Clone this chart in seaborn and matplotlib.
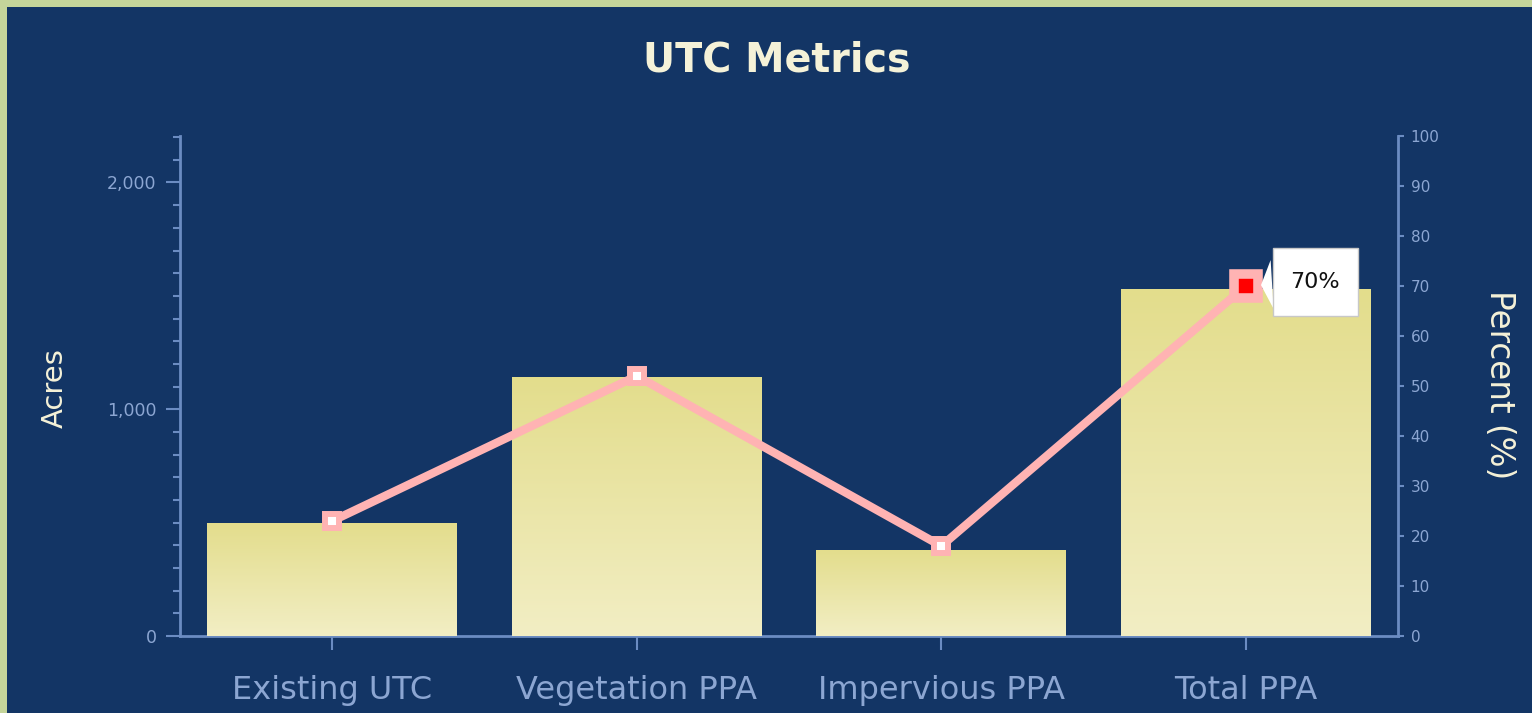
import numpy as np
import pandas as pd
import matplotlib
matplotlib.use("Agg")
import matplotlib.pyplot as plt
import seaborn as sns
from matplotlib.colors import LinearSegmentedColormap
from matplotlib.ticker import MultipleLocator, FuncFormatter
from matplotlib.path import Path

categories = ["Existing UTC", "Vegetation PPA", "Impervious PPA", "Total PPA"]
acres = [500, 1140, 380, 1530]
percent = [23, 52, 18, 70]
highlight_label = "70%"

NAVY = "#133565"
BORDER = "#c5d59a"
AXIS = "#6b8cc2"
TICKTXT = "#8ca6d2"
CREAM = "#f5f2d8"
PINK = "#ffb3b3"

sns.set_theme(style="white")
plt.rcParams["font.family"] = ["DejaVu Sans"]


def callout_box(x0, y0, width, height, mutation_size):
    px = 0.8 * mutation_size
    py = 1.07 * mutation_size
    verts = [(x0 - px, y0 - py), (x0 + width + px, y0 - py),
             (x0 + width + px, y0 + height + py), (x0 - px, y0 + height + py),
             (x0 - px, y0 - py)]
    codes = [Path.MOVETO, Path.LINETO, Path.LINETO, Path.LINETO, Path.CLOSEPOLY]
    return Path(verts, codes)


fig = plt.figure(figsize=(15.32, 7.13), dpi=100)
fig.patch.set_facecolor(BORDER)
fig.patches.append(plt.Rectangle((7 / 1532, 0), 1, 1 - 7 / 713, transform=fig.transFigure,
                                 facecolor=NAVY, edgecolor="none", zorder=-10))

ax = fig.add_axes([180 / 1532, 1 - 636 / 713, 1218 / 1532, 500 / 713])
ax.set_facecolor(NAVY)
df = pd.DataFrame({"category": categories, "acres": acres, "percent": percent})
sns.barplot(data=df, x="category", y="acres", ax=ax, color="#e6e09a", width=0.82,
            saturation=1, edgecolor="none", zorder=2)

# vertical gradient on bars
cmap = LinearSegmentedColormap.from_list("bar", ["#f2eec4", "#e3dd8c"])
grad = np.linspace(0, 1, 256).reshape(-1, 1)
for p in list(ax.patches):
    x0, y0 = p.get_x(), p.get_y()
    w, h = p.get_width(), p.get_height()
    im = ax.imshow(grad, extent=[x0, x0 + w, y0, y0 + h], origin="lower", cmap=cmap,
                   aspect="auto", zorder=3, interpolation="bilinear")
    im.set_clip_path(p)

ax.set_xlim(-0.5, 3.5)
ax.set_ylim(0, 2205)
ax.set_xlabel("")
ax.set_ylabel("")
ax.yaxis.set_major_locator(MultipleLocator(1000))
ax.yaxis.set_minor_locator(MultipleLocator(100))
ax.yaxis.set_major_formatter(FuncFormatter(lambda v, p: f"{int(v):,}"))
for s in ["top", "right"]:
    ax.spines[s].set_visible(False)
for s in ["left", "bottom"]:
    ax.spines[s].set_color(AXIS)
    ax.spines[s].set_linewidth(2)
ax.tick_params(axis="y", which="major", length=10, width=1.5, color=AXIS, direction="out",
               labelsize=12.5, labelcolor=TICKTXT, pad=7, left=True)
ax.tick_params(axis="y", which="minor", length=5, width=1.5, color=AXIS, direction="out", left=True)
ax.tick_params(axis="x", length=10, width=1.5, color=AXIS, direction="out",
               labelsize=23, labelcolor=TICKTXT, pad=18, bottom=True)

ax2 = ax.twinx()
sns.lineplot(data=df, x="category", y="percent", ax=ax2, sort=False, color=PINK,
             linewidth=6, marker="s", markersize=10, markeredgewidth=4.3,
             markerfacecolor="white", markeredgecolor=PINK, zorder=5)
hl = df.iloc[[-1]]
sns.scatterplot(data=hl, x="category", y="percent", ax=ax2, marker="s", s=286,
                color="#ff0000", edgecolor=PINK, linewidth=6.9, zorder=6)
ax2.collections[-1].set_joinstyle("miter")
ax2.set_ylim(0, 100)
ax2.set_xlim(-0.5, 3.5)
ax2.set_ylabel("")
ax2.set_xlabel("")
ax2.yaxis.set_major_locator(MultipleLocator(10))
for s in ["top", "left", "bottom"]:
    ax2.spines[s].set_visible(False)
ax2.spines["right"].set_color(AXIS)
ax2.spines["right"].set_linewidth(2)
ax2.tick_params(axis="y", length=4, width=1.5, color=AXIS, direction="out",
                labelsize=11, labelcolor=TICKTXT, pad=5, right=True)

ax2.annotate(highlight_label, xy=(3, percent[-1]), xytext=(50, 3), textcoords="offset points",
             ha="center", va="center", fontsize=16, color="#111111", zorder=10,
             bbox=dict(boxstyle=callout_box, fc="white", ec="#c8c8c8", lw=1),
             arrowprops=dict(arrowstyle="wedge,tail_width=2.2,shrink_factor=0.5", fc="white",
                             ec="none", shrinkA=0, shrinkB=11))

fig.text(0.507, 1 - 60 / 713, "UTC Metrics", ha="center", va="center", fontsize=28.5,
         fontweight="bold", color=CREAM)
fig.text(55 / 1532, 1 - 388 / 713, "Acres", ha="center", va="center", rotation=90,
         fontsize=21, color=CREAM)
fig.text(1500 / 1532, 1 - 385 / 713, "Percent (%)", ha="center", va="center", rotation=270,
         fontsize=23.5, color=CREAM)

fig.savefig("out.png", dpi=100, facecolor=fig.get_facecolor())
